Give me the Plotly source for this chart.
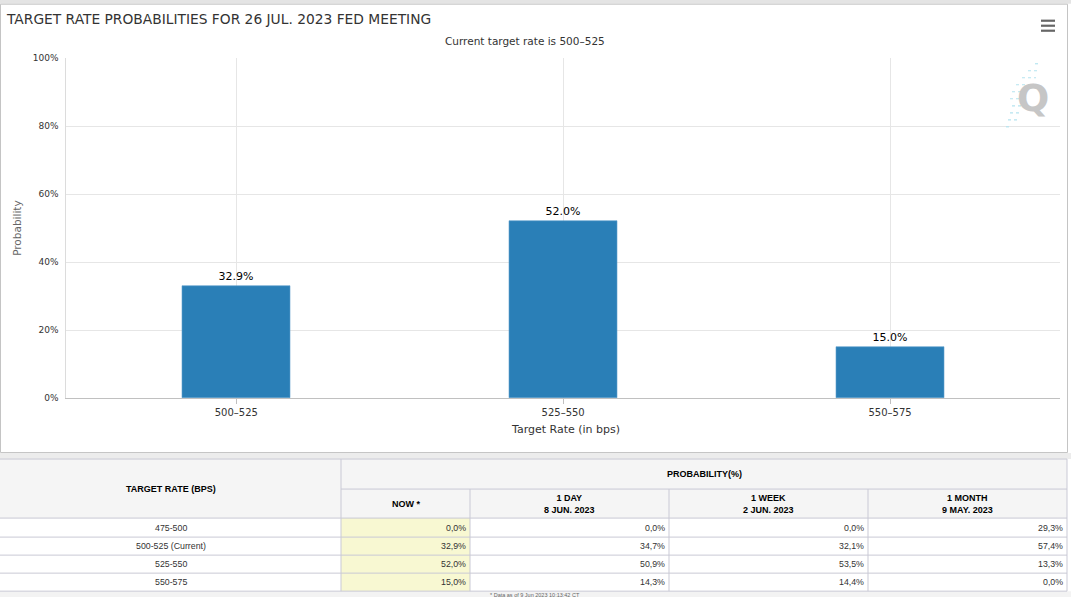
import plotly.graph_objects as go

# ---------------- data ----------------
categories = ["500\u2013525", "525\u2013550", "550\u2013575"]
probabilities = [32.9, 52.0, 15.0]
y_ticks = [0, 20, 40, 60, 80, 100]

table_rates = ["475-500", "500-525 (Current)", "525-550", "550-575"]
now_vals = [0.0, 32.9, 52.0, 15.0]
day_vals = [0.0, 34.7, 50.9, 14.3]
week_vals = [0.0, 32.1, 53.5, 14.4]
month_vals = [29.3, 57.4, 13.3, 0.0]
col_headers = ["NOW *", "1 DAY<br>8 JUN. 2023", "1 WEEK<br>2 JUN. 2023", "1 MONTH<br>9 MAY. 2023"]

title_text = "TARGET RATE PROBABILITIES FOR 26 JUL. 2023 FED MEETING"
subtitle_text = "Current target rate is 500\u2013525"

# ---------------- layout helpers ----------------
W, H = 1071, 597
SY, OY = 0.9825, 4.3   # vertical calibration of the capture

def px(x):
    return x / W
def py(y):
    return 1 - ((y - OY) / SY) / H

BAR_COLOR = "#2a7fb7"
GRID = "#e6e6e6"
TLINE = "#c9c9d5"

fig = go.Figure()
fig.add_trace(go.Bar(
    x=list(range(len(categories))), y=probabilities,
    width=0.33,
    marker=dict(color=BAR_COLOR, line=dict(color="#5e9fcc", width=0.6)),
    text=[f"{v:.1f}%" for v in probabilities],
    textposition="outside",
    textfont=dict(family="DejaVu Sans", size=11, color="#000000"),
    cliponaxis=False,
    hoverinfo="skip",
))

shapes = []
annotations = []

# page background pieces
shapes.append(dict(type="rect", xref="paper", yref="paper", x0=0, x1=1, y0=py(3), y1=1.05,
                   fillcolor="#e4e4e4", line=dict(width=0), layer="below"))
shapes.append(dict(type="rect", xref="paper", yref="paper", x0=px(0.5), x1=px(1067.5), y0=py(451.5), y1=py(3.5),
                   fillcolor="rgba(0,0,0,0)", line=dict(color="#c4c4c4", width=1), layer="below"))
shapes.append(dict(type="rect", xref="paper", yref="paper", x0=0, x1=1, y0=py(458), y1=py(452),
                   fillcolor="#ececec", line=dict(width=0), layer="below"))

# hamburger menu
for yy in (20, 25, 30):
    shapes.append(dict(type="line", xref="paper", yref="paper", x0=px(1041), x1=px(1055), y0=py(yy), y1=py(yy),
                       line=dict(color="#666666", width=2.2)))
# watermark streaks
for xa, xb, yy in [(1035, 1040, 63), (1028, 1038, 70), (1022, 1036, 77), (1016, 1033, 84),
                   (1012, 1030, 91), (1010, 1028, 98), (1012, 1026, 105), (1010, 1022, 112),
                   (1008, 1018, 119), (1006, 1012, 126)]:
    shapes.append(dict(type="line", xref="paper", yref="paper", x0=px(xa), x1=px(xb), y0=py(yy), y1=py(yy),
                       line=dict(color="#b5e4f0", width=1.2, dash="dot")))
annotations.append(dict(text="<b>Q</b>", xref="paper", yref="paper", x=px(1033), y=py(97),
                        showarrow=False, font=dict(family="DejaVu Sans", size=38, color="#c6c6c6"),
                        xanchor="center", yanchor="middle"))

# titles
annotations.append(dict(text=title_text, xref="paper", yref="paper", x=px(4), y=py(18),
                        xanchor="left", yanchor="middle", showarrow=False,
                        font=dict(family="DejaVu Sans", size=13.8, color="#333333")))
annotations.append(dict(text=subtitle_text, xref="paper", yref="paper", x=px(525), y=py(40),
                        xanchor="center", yanchor="middle", showarrow=False,
                        font=dict(family="DejaVu Sans", size=10.5, color="#333333")))
annotations.append(dict(text="Probability", xref="paper", yref="paper", x=px(17), y=py(227),
                        xanchor="center", yanchor="middle", textangle=-90, showarrow=False,
                        font=dict(family="DejaVu Sans", size=10.5, color="#666666")))
annotations.append(dict(text="Target Rate (in bps)", xref="paper", yref="paper", x=px(565), y=py(428),
                        xanchor="center", yanchor="middle", showarrow=False,
                        font=dict(family="DejaVu Sans", size=11, color="#333333")))

# ---------------- table ----------------
col_x = [0, 341, 470, 669, 868, 1067]
row_y = [458, 488, 517, 536, 554, 572, 590]
TF = "Liberation Sans"

shapes.append(dict(type="rect", xref="paper", yref="paper", x0=0, x1=px(col_x[-1]), y0=py(row_y[2]), y1=py(row_y[0]),
                   fillcolor="#f5f5f5", line=dict(width=0), layer="below"))
shapes.append(dict(type="rect", xref="paper", yref="paper", x0=px(col_x[1]), x1=px(col_x[2]), y0=py(row_y[-1]), y1=py(row_y[2]),
                   fillcolor="#f8f8d2", line=dict(width=0), layer="below"))
shapes.append(dict(type="rect", xref="paper", yref="paper", x0=0, x1=1, y0=-0.05, y1=py(row_y[-1]),
                   fillcolor="#f3f3f3", line=dict(width=0), layer="below"))
# horizontal lines
shapes.append(dict(type="line", xref="paper", yref="paper", x0=0, x1=px(col_x[-1]), y0=py(row_y[0]), y1=py(row_y[0]),
                   line=dict(color=TLINE, width=1)))
shapes.append(dict(type="line", xref="paper", yref="paper", x0=px(col_x[1]), x1=px(col_x[-1]), y0=py(row_y[1]), y1=py(row_y[1]),
                   line=dict(color=TLINE, width=1)))
for yy in row_y[2:]:
    shapes.append(dict(type="line", xref="paper", yref="paper", x0=0, x1=px(col_x[-1]), y0=py(yy), y1=py(yy),
                       line=dict(color=TLINE, width=1)))
# vertical lines
for i, xx in enumerate(col_x[1:], start=1):
    top = row_y[0] if i in (1, len(col_x) - 1) else row_y[1]
    shapes.append(dict(type="line", xref="paper", yref="paper", x0=px(xx), x1=px(xx), y0=py(row_y[-1]), y1=py(top),
                       line=dict(color=TLINE, width=1)))

# header texts
annotations.append(dict(text="<b>TARGET RATE (BPS)</b>", xref="paper", yref="paper",
                        x=px((col_x[0] + col_x[1]) / 2), y=py(row_y[1]), showarrow=False,
                        xanchor="center", yanchor="middle", font=dict(family=TF, size=9, color="#000000")))
annotations.append(dict(text="<b>PROBABILITY(%)</b>", xref="paper", yref="paper",
                        x=px((col_x[1] + col_x[-1]) / 2), y=py((row_y[0] + row_y[1]) / 2), showarrow=False,
                        xanchor="center", yanchor="middle", font=dict(family=TF, size=9, color="#000000")))
for j, h in enumerate(col_headers):
    annotations.append(dict(text=f"<b>{h}</b>", xref="paper", yref="paper",
                            x=px((col_x[j + 1] + col_x[j + 2]) / 2), y=py((row_y[1] + row_y[2]) / 2),
                            showarrow=False, xanchor="center", yanchor="middle",
                            font=dict(family=TF, size=9, color="#000000")))

def fmt(v):
    return f"{v:.1f}".replace(".", ",") + "%"

cols = [now_vals, day_vals, week_vals, month_vals]
for r, rate in enumerate(table_rates):
    yc = py((row_y[r + 2] + row_y[r + 3]) / 2)
    annotations.append(dict(text=rate, xref="paper", yref="paper", x=px((col_x[0] + col_x[1]) / 2), y=yc,
                            showarrow=False, xanchor="center", yanchor="middle",
                            font=dict(family=TF, size=8.8, color="#333333")))
    for j, col in enumerate(cols):
        annotations.append(dict(text=fmt(col[r]), xref="paper", yref="paper", x=px(col_x[j + 2] - 2), y=yc,
                                showarrow=False, xanchor="right", yanchor="middle",
                                font=dict(family=TF, size=8.8, color="#333333")))

annotations.append(dict(text="* Data as of 9 Jun 2023 10:13:42 CT", xref="paper", yref="paper",
                        x=px(535), y=py(593.5), showarrow=False, xanchor="center", yanchor="middle",
                        font=dict(family=TF, size=5.5, color="#666666")))

fig.update_layout(
    width=W, height=H,
    margin=dict(l=0, r=0, t=0, b=0),
    paper_bgcolor="#ffffff", plot_bgcolor="#ffffff",
    showlegend=False,
    bargap=0,
    shapes=shapes, annotations=annotations,
    xaxis=dict(
        domain=[px(66.3), px(1060)],
        range=[-0.52, 2.52],
        tickmode="array", tickvals=list(range(len(categories))), ticktext=categories,
        showgrid=True, gridcolor=GRID, gridwidth=1,
        showline=True, linecolor="#c0c0c0", linewidth=1,
        ticks="outside", ticklen=5, tickcolor="#c0c0c0",
        tickfont=dict(family="DejaVu Sans", size=10, color="#333333"),
        zeroline=False, fixedrange=True,
    ),
    yaxis=dict(
        domain=[py(397.3), py(57.3)],
        range=[0, 100],
        tickmode="array", tickvals=y_ticks, ticktext=[f"{t}%" for t in y_ticks],
        showgrid=True, gridcolor=GRID, gridwidth=1,
        showline=True, linecolor="#dcdcdc", linewidth=1,
        ticklabelstandoff=5,
        tickfont=dict(family="DejaVu Sans", size=9, color="#333333"),
        zeroline=False, fixedrange=True,
    ),
)

post = (
    "document.documentElement.style.margin='0';"
    "document.body.style.margin='0';document.body.style.padding='0';"
    "document.body.style.overflow='hidden';"
    "var d=document.getElementById('{plot_id}');"
    "d.style.position='absolute';d.style.left='0px';d.style.top='0px';"
)

fig.write_html("out.html", config={"displayModeBar": False}, post_script=post)
